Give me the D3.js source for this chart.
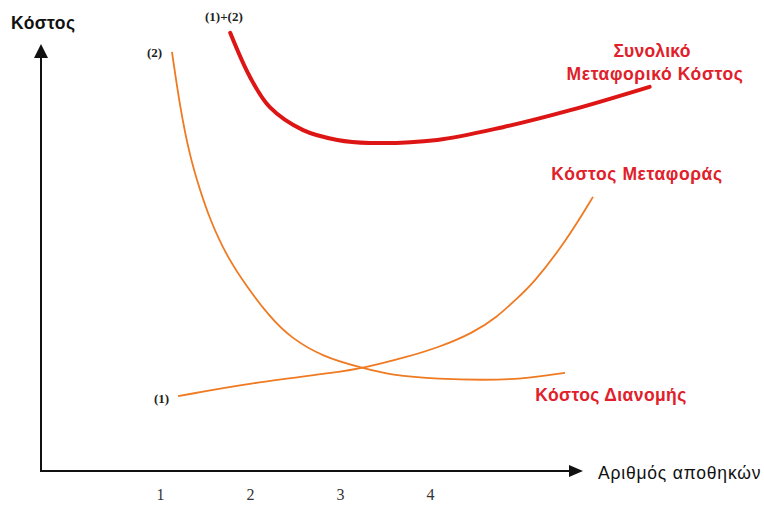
<!DOCTYPE html>
<html><head><meta charset="utf-8">
<script src="https://cdn.jsdelivr.net/npm/d3@7"></script>
<style>body{margin:0;background:#fff}svg{display:block}</style>
</head><body>
<script>
// number of warehouses (x) vs cost (y, arbitrary units)
const tickLabels = [1, 2, 3, 4];
const distributionX = [1.133,1.222,1.333,1.444,1.556,1.744,1.967,2.222,2.444,2.811,3.256,3.556,4.111,4.589,5.0,5.5];
const distributionY = [98.6,85.6,73.9,66.1,59.1,50.4,43.3,36.2,31.5,26.8,24.2,22.6,21.6,21.4,21.6,23.1];
const transportX = [1.2,2.0,3.0,3.256,3.744,4.111,4.478,4.744,4.944,5.144,5.522,5.811];
const transportY = [17.6,20.7,23.3,24.2,26.8,29.2,32.5,36.2,40.2,44.0,54.4,64.5];
const totalX = [1.78,2.0,2.22,2.59,2.97,3.33,4.08,4.81,5.56,6.44];
const totalY = [103.1,92.7,85.6,80.2,77.9,77.2,77.9,80.9,84.9,90.4];

const W = 764, H = 505;
const svg = d3.select("body").append("svg").attr("width", W).attr("height", H);

const x = d3.scaleLinear().domain([0, 4]).range([70, 430]);
const y = d3.scaleLinear().domain([0, 100]).range([471, 46]);
const x0 = 41, y0 = 471;

const smooth = d3.line().x(d => x(d[0])).y(d => y(d[1])).curve(d3.curveBasis);
const thru = d3.line().x(d => x(d[0])).y(d => y(d[1])).curve(d3.curveCatmullRom.alpha(0.5));
const zip = (a, b) => a.map((v, i) => [v, b[i]]);

// axes
svg.append("line").attr("x1", x0).attr("y1", y0).attr("x2", x0).attr("y2", 56)
  .attr("stroke", "#111").attr("stroke-width", 2);
svg.append("path").attr("d", `M${x0},44 L${x0-7},58 L${x0+7},58 Z`).attr("fill", "#111");
svg.append("line").attr("x1", x0 - 1).attr("y1", y0).attr("x2", 572).attr("y2", y0)
  .attr("stroke", "#111").attr("stroke-width", 2);
svg.append("path").attr("d", `M583,${y0} L569,${y0-6} L569,${y0+6} Z`).attr("fill", "#111");

const xAxis = svg.append("g").attr("transform", `translate(0,${y0})`)
  .call(d3.axisBottom(x).tickValues(tickLabels).tickSize(0).tickPadding(18).tickFormat(d3.format("d")));
xAxis.select(".domain").remove();
xAxis.selectAll("text").attr("font-family", "Liberation Serif, serif").attr("font-size", 16).attr("fill", "#333");

// curves
svg.append("path").attr("d", smooth(zip(distributionX, distributionY)))
  .attr("fill", "none").attr("stroke", "#ef7a22").attr("stroke-width", 1.8);
svg.append("path").attr("d", smooth(zip(transportX, transportY)))
  .attr("fill", "none").attr("stroke", "#ef7a22").attr("stroke-width", 1.8);
svg.append("path").attr("d", thru(zip(totalX, totalY)))
  .attr("fill", "none").attr("stroke", "#dd1515").attr("stroke-width", 4).attr("stroke-linecap", "round");

// texts
const sans = "Liberation Sans, Arial, sans-serif";
const serif = "Liberation Serif, Times New Roman, serif";
function txt(t, px, py, opts) {
  return svg.append("text").attr("x", px).attr("y", py).text(t)
    .attr("font-family", opts.family || sans).attr("font-size", opts.size || 15)
    .attr("font-weight", opts.weight || "bold").attr("fill", opts.fill || "#111")
    .attr("text-anchor", opts.anchor || "start")
    .attr("letter-spacing", opts.ls || 0);
}
txt("Κόστος", 11, 29, {size: 17.5, ls: 0.4});
txt("Αριθμός αποθηκών", 598, 479, {size: 17.5, weight: "normal", fill: "#111", ls: 0.8});
txt("(1)+(2)", 205, 21, {family: serif, size: 13, fill: "#222"});
txt("(2)", 147, 57, {family: serif, size: 13, fill: "#222"});
txt("(1)", 154, 403, {family: serif, size: 13, fill: "#222"});
const red = "#e0202a";
const fs = 17.5;
txt("Συνολικό", 652, 57, {size: fs, fill: red, anchor: "middle", ls: 0.2});
txt("Μεταφορικό Κόστος", 655, 80, {size: fs, fill: red, anchor: "middle", ls: 0.6});
txt("Κόστος Μεταφοράς", 637, 180, {size: fs, fill: red, anchor: "middle", ls: 0.6});
txt("Κόστος Διανομής", 611, 401, {size: fs, fill: red, anchor: "middle", ls: 0.4});
</script>
</body></html>
